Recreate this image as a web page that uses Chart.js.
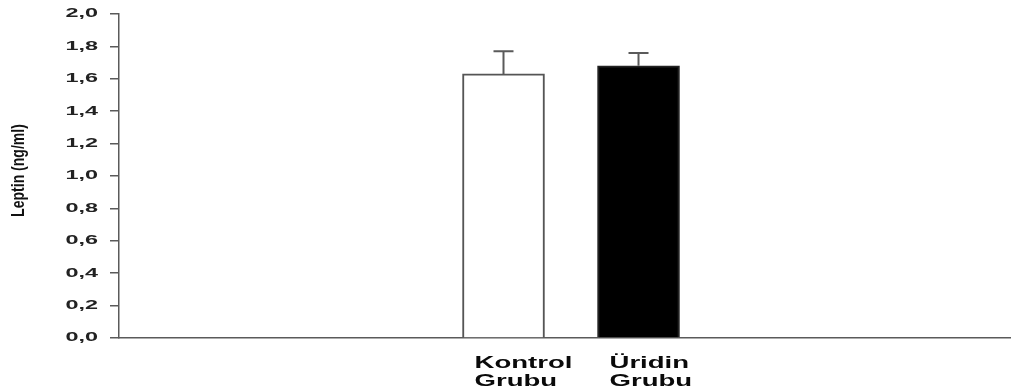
<!DOCTYPE html>
<html>
<head>
<meta charset="utf-8">
<script src="https://cdn.jsdelivr.net/npm/chart.js@4.4.1/dist/chart.umd.min.js"></script>
<style>
  html, body { margin: 0; padding: 0; background: #ffffff; }
  #wrap { width: 1011px; height: 390px; position: relative; }
</style>
</head>
<body>
<div id="wrap"><canvas id="c" width="1011" height="390"></canvas></div>
<script>
// ---- data ----
const categories = [["Kontrol", "Grubu"], ["Üridin", "Grubu"]];
const xPositions = [1, 2];
const leptinMeans = [1.63, 1.68];
const leptinErrors = [0.14, 0.08];
const yTickValues = [0.0, 0.2, 0.4, 0.6, 0.8, 1.0, 1.2, 1.4, 1.6, 1.8, 2.0];
const yTickLabels = ["0,0", "0,2", "0,4", "0,6", "0,8", "1,0", "1,2", "1,4", "1,6", "1,8", "2,0"];
const yTitle = "Leptin (ng/ml)";
const barFills = ["#ffffff", "#000000"];
const barBorders = ["#555555", "#222222"];

const AXIS = "#5a5a5a";

const errorBarPlugin = {
  id: "errorBars",
  afterDatasetsDraw(chart) {
    const ctx = chart.ctx, xs = chart.scales.x, ys = chart.scales.y;
    ctx.save();
    ctx.strokeStyle = AXIS;
    ctx.lineWidth = 2;
    leptinMeans.forEach((m, i) => {
      const px = xs.getPixelForValue(xPositions[i]);
      const yb = ys.getPixelForValue(m);
      const yt = ys.getPixelForValue(m + leptinErrors[i]);
      ctx.beginPath();
      ctx.moveTo(px, yb);
      ctx.lineTo(px, yt);
      ctx.moveTo(px - 10, yt);
      ctx.lineTo(px + 10, yt);
      ctx.stroke();
    });
    ctx.restore();
  }
};

const labelPlugin = {
  id: "stretchedLabels",
  afterDraw(chart) {
    const ctx = chart.ctx, xs = chart.scales.x, ys = chart.scales.y;
    ctx.save();
    // y tick labels
    ctx.fillStyle = "#222222";
    ctx.font = 'bold 12px "Liberation Sans", Arial, sans-serif';
    ctx.textAlign = "right";
    ctx.textBaseline = "middle";
    yTickValues.forEach((v, i) => {
      const py = ys.getPixelForValue(v);
      ctx.save();
      ctx.translate(ys.right - 21, py);
      ctx.scale(1.95, 1);
      ctx.fillText(yTickLabels[i], 0, 0);
      ctx.restore();
    });
    // y title (condensed)
    ctx.save();
    ctx.fillStyle = "#111111";
    ctx.font = 'bold 18px "Liberation Sans", Arial, sans-serif';
    ctx.textAlign = "center";
    ctx.textBaseline = "middle";
    ctx.translate(19, (ys.top + ys.bottom) / 2 - 5.5);
    ctx.rotate(-Math.PI / 2);
    ctx.scale(0.78, 1);
    ctx.fillText(yTitle, 0, 0);
    ctx.restore();
    // category labels
    ctx.fillStyle = "#0a0a0a";
    ctx.font = 'bold 17px "Liberation Sans", Arial, sans-serif';
    ctx.textAlign = "left";
    ctx.textBaseline = "alphabetic";
    categories.forEach((lines, i) => {
      const px = xs.getPixelForValue(xPositions[i]) - 29;
      lines.forEach((ln, j) => {
        ctx.save();
        ctx.translate(px, ys.bottom + 30 + j * 17.5);
        ctx.scale(1.62, 1);
        ctx.fillText(ln, 0, 0);
        ctx.restore();
      });
    });
    ctx.restore();
  }
};

new Chart(document.getElementById("c"), {
  type: "bar",
  data: {
    datasets: [{
      data: xPositions.map((x, i) => ({ x: x, y: leptinMeans[i] })),
      backgroundColor: barFills,
      borderColor: barBorders,
      borderWidth: 2,
      barThickness: 82
    }]
  },
  options: {
    responsive: false,
    animation: false,
    devicePixelRatio: 1,
    layout: { padding: { left: 0, right: 0, top: 14, bottom: 52 } },
    plugins: { legend: { display: false }, tooltip: { enabled: false } },
    scales: {
      x: {
        type: "linear",
        offset: false,
        bounds: "data",
        min: -1.848,
        max: 4.759,
        ticks: { display: false },
        grid: { display: false },
        border: { display: true, color: AXIS, width: 1.5 },
        afterFit(s) { s.height = 0; }
      },
      y: {
        min: 0,
        max: 2,
        afterBuildTicks(s) { s.ticks = yTickValues.map(v => ({ value: v })); },
        ticks: { display: false },
        grid: { display: true, drawOnChartArea: false, drawTicks: true, tickLength: 9, color: AXIS, lineWidth: 1.5 },
        border: { display: true, color: AXIS, width: 1.5 },
        title: { display: false, text: yTitle },
        afterFit(s) { s.width = 119; }
      }
    }
  },
  plugins: [errorBarPlugin, labelPlugin]
});
</script>
</body>
</html>
